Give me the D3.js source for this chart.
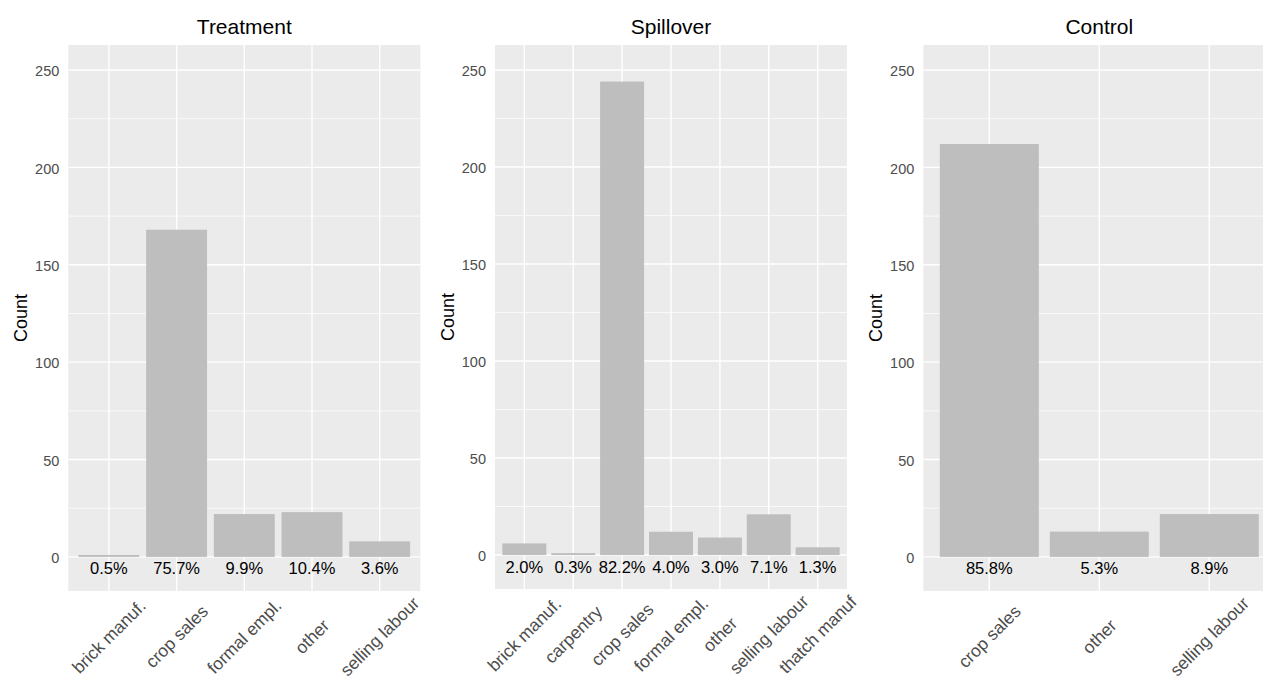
<!DOCTYPE html>
<html>
<head>
<meta charset="utf-8">
<script src="https://cdn.jsdelivr.net/npm/d3@7"></script>
<style>
  html, body { margin: 0; padding: 0; background: #ffffff; }
  svg { display: block; font-family: "Liberation Sans", Arial, Helvetica, sans-serif; }
</style>
</head>
<body>
<svg id="chart" width="1263" height="677"></svg>
<script>
// ---- data ----
const panelTitles = ["Treatment", "Spillover", "Control"];

const treatmentCategories = ["brick manuf.", "crop sales", "formal empl.", "other", "selling labour"];
const treatmentCounts     = [1, 168, 22, 23, 8];
const treatmentLabels     = ["0.5%", "75.7%", "9.9%", "10.4%", "3.6%"];

const spilloverCategories = ["brick manuf.", "carpentry", "crop sales", "formal empl.", "other", "selling labour", "thatch manuf"];
const spilloverCounts     = [6, 1, 244, 12, 9, 21, 4];
const spilloverLabels     = ["2.0%", "0.3%", "82.2%", "4.0%", "3.0%", "7.1%", "1.3%"];

const controlCategories = ["crop sales", "other", "selling labour"];
const controlCounts     = [212, 13, 22];
const controlLabels     = ["85.8%", "5.3%", "8.9%"];

const yTicks      = [0, 50, 100, 150, 200, 250];
const yMinorTicks = [25, 75, 125, 175, 225];
const yAxisTitle  = "Count";

// ---- layout ----
const panelLefts   = [68.3, 495, 923.3];
const panelBottoms = [591, 589, 591];
const panelTop     = 45;
const panelWidth   = 352;
const yDomain      = [-17.5, 262.85];
const labelValue   = -9;

const svg = d3.select("#chart");

const panelsData = [
  { title: panelTitles[0], cats: treatmentCategories, counts: treatmentCounts, labels: treatmentLabels },
  { title: panelTitles[1], cats: spilloverCategories, counts: spilloverCounts, labels: spilloverLabels },
  { title: panelTitles[2], cats: controlCategories,   counts: controlCounts,   labels: controlLabels }
];

panelsData.forEach((p, i) => {
  const left = panelLefts[i];
  const right = left + panelWidth;
  const bottom = panelBottoms[i];

  const x = d3.scaleBand()
    .domain(p.cats)
    .range([left, right])
    .paddingInner(0.1)
    .paddingOuter(0.15)
    .align(0.5);

  const y = d3.scaleLinear().domain(yDomain).range([bottom, panelTop]);

  const g = svg.append("g");

  // panel background
  g.append("rect")
    .attr("x", left).attr("y", panelTop)
    .attr("width", panelWidth).attr("height", bottom - panelTop)
    .attr("fill", "#EBEBEB");

  // minor gridlines
  g.selectAll(".minor").data(yMinorTicks).enter().append("line")
    .attr("x1", left).attr("x2", right)
    .attr("y1", d => y(d)).attr("y2", d => y(d))
    .attr("stroke", "#ffffff").attr("stroke-width", 0.7);

  // major gridlines
  g.selectAll(".major").data(yTicks).enter().append("line")
    .attr("x1", left).attr("x2", right)
    .attr("y1", d => y(d)).attr("y2", d => y(d))
    .attr("stroke", "#ffffff").attr("stroke-width", 1.4);

  g.selectAll(".vgrid").data(p.cats).enter().append("line")
    .attr("x1", d => x(d) + x.bandwidth() / 2).attr("x2", d => x(d) + x.bandwidth() / 2)
    .attr("y1", panelTop).attr("y2", bottom)
    .attr("stroke", "#ffffff").attr("stroke-width", 1.4);

  // bars
  g.selectAll(".bar").data(p.cats).enter().append("rect")
    .attr("x", d => x(d))
    .attr("width", x.bandwidth())
    .attr("y", (d, j) => y(p.counts[j]))
    .attr("height", (d, j) => y(0) - y(p.counts[j]))
    .attr("fill", "#BEBEBE");

  // bar labels
  g.selectAll(".lbl").data(p.cats).enter().append("text")
    .attr("x", d => x(d) + x.bandwidth() / 2)
    .attr("y", y(labelValue))
    .attr("text-anchor", "middle")
    .attr("font-size", "16.5px")
    .attr("fill", "#000000")
    .text((d, j) => p.labels[j]);

  // y axis
  const yAxis = d3.axisLeft(y).tickValues(yTicks).tickSize(0).tickPadding(9);
  const ya = g.append("g").attr("transform", `translate(${left},0)`).call(yAxis);
  ya.select(".domain").remove();
  ya.selectAll("text")
    .attr("font-size", "14.5px")
    .attr("font-family", "'Liberation Sans', Arial, sans-serif")
    .attr("fill", "#4D4D4D")
    .attr("dy", "0.4em");

  // x tick labels (rotated 45)
  const labelCy = bottom + 45.5;
  g.selectAll(".xl").data(p.cats).enter().append("text")
    .attr("transform", d => `translate(${x(d) + x.bandwidth() / 2},${labelCy}) rotate(-45)`)
    .attr("text-anchor", "middle")
    .attr("dy", "0.35em")
    .attr("font-size", "17.5px")
    .attr("fill", "#4D4D4D")
    .text(d => d);

  // y axis title
  g.append("text")
    .attr("transform", `translate(${left - 47.5},${(panelTop + bottom) / 2}) rotate(-90)`)
    .attr("text-anchor", "middle")
    .attr("dy", "0.35em")
    .attr("font-size", "18px")
    .attr("fill", "#000000")
    .text(yAxisTitle);

  // panel title
  g.append("text")
    .attr("x", left + panelWidth / 2)
    .attr("y", 34)
    .attr("text-anchor", "middle")
    .attr("font-size", "21px")
    .attr("fill", "#000000")
    .text(p.title);
});
</script>
</body>
</html>
